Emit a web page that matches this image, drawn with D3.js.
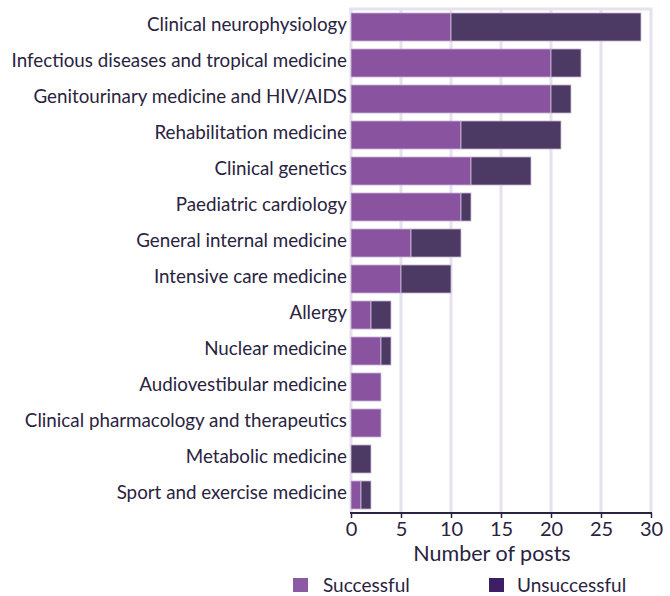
<!DOCTYPE html>
<html>
<head>
<meta charset="utf-8">
<script src="https://cdn.jsdelivr.net/npm/d3@7"></script>
<style>
  body { margin: 0; background: #fff; }
  text { font-family: Lato, "Open Sans", sans-serif; fill: #2a2340; }
</style>
</head>
<body>
<div id="chart"></div>
<script>
let w = 670,
    h = 596;

// data
let specialties = [
  "Clinical neurophysiology",
  "Infectious diseases and tropical medicine",
  "Genitourinary medicine and HIV/AIDS",
  "Rehabilitation medicine",
  "Clinical genetics",
  "Paediatric cardiology",
  "General internal medicine",
  "Intensive care medicine",
  "Allergy",
  "Nuclear medicine",
  "Audiovestibular medicine",
  "Clinical pharmacology and therapeutics",
  "Metabolic medicine",
  "Sport and exercise medicine"
];
let successful   = [10, 20, 20, 11, 12, 11, 6, 5, 2, 3, 3, 3, 0, 1];
let unsuccessful = [19, 3, 2, 10, 6, 1, 5, 5, 2, 1, 0, 0, 2, 1];
let xTicks = [0, 5, 10, 15, 20, 25, 30];
let seriesNames = ["Successful", "Unsuccessful"];

let barColors = ["#8a53a0", "#4d3a64"];
let legendColors = ["#8c5aa5", "#3d1f66"];

let margin = { top: 9, left: 351, right: 19, bottom: 83 };

let svg = d3.select("#chart")
            .append("svg")
            .attr("width", w)
            .attr("height", h);

let x = d3.scaleLinear()
          .domain([0, 30])
          .range([margin.left, w - margin.right]);

let y = d3.scaleBand()
          .domain(specialties)
          .range([margin.top, h - margin.bottom])
          .paddingInner(0.22)
          .paddingOuter(0.11);

// gridlines
svg.append("g")
   .selectAll("line")
   .data(xTicks)
   .enter()
   .append("line")
   .attr("x1", d => x(d))
   .attr("x2", d => x(d))
   .attr("y1", margin.top)
   .attr("y2", h - margin.bottom)
   .attr("stroke", "#e7e0ee")
   .attr("stroke-width", 3);

// top frame line
svg.append("line")
   .attr("x1", x(0) - 2)
   .attr("x2", x(30) + 1.5)
   .attr("y1", margin.top)
   .attr("y2", margin.top)
   .attr("stroke", "#e7e0ee")
   .attr("stroke-width", 3);

let rows = specialties.map((name, i) => ({
  name: name,
  s: successful[i],
  u: unsuccessful[i]
}));

let stack = d3.stack().keys(["s", "u"])(rows);

svg.append("g")
   .selectAll("g")
   .data(stack)
   .enter()
   .append("g")
   .attr("fill", (d, i) => barColors[i])
   .selectAll("rect")
   .data(d => d.filter(p => p[1] > p[0]))
   .enter()
   .append("rect")
   .attr("x", d => x(d[0]))
   .attr("width", d => x(d[1]) - x(d[0]))
   .attr("y", d => y(d.data.name))
   .attr("height", y.bandwidth())
   .attr("stroke", "#cfc0da")
   .attr("stroke-width", 0.8);

// category labels (sit a little above the bar centre)
svg.append("g")
   .selectAll("text")
   .data(specialties)
   .enter()
   .append("text")
   .attr("x", margin.left - 4)
   .attr("y", d => y(d) + y.bandwidth() / 2 - 3)
   .attr("dy", "0.35em")
   .attr("text-anchor", "end")
   .style("font-size", "18.8px")
   .text(d => d);

// x axis
let xAxis = svg.append("g")
   .attr("transform", "translate(0," + (h - margin.bottom) + ")")
   .call(d3.axisBottom(x).tickValues(xTicks).tickSize(5).tickPadding(4).tickSizeOuter(0));

xAxis.select(".domain")
     .attr("stroke", "#2a2340")
     .attr("stroke-width", 2)
     .attr("d", "M" + (x(0) - 1) + ",0H" + (x(30) + 1));
xAxis.selectAll(".tick line")
     .attr("stroke", "#2a2340")
     .attr("stroke-width", 1.5);
xAxis.selectAll(".tick text")
     .style("font-family", "Lato, sans-serif")
     .style("font-size", "20px")
     .attr("fill", "#2a2340");

svg.append("text")
   .attr("x", 492)
   .attr("y", 561)
   .attr("text-anchor", "middle")
   .style("font-size", "21.5px")
   .text("Number of posts");

// legend
let legend = svg.append("g")
   .selectAll("g")
   .data(seriesNames)
   .enter()
   .append("g")
   .attr("transform", (d, i) => "translate(" + [293, 489][i] + ",578)");

legend.append("rect")
      .attr("width", 15)
      .attr("height", 14)
      .attr("fill", (d, i) => legendColors[i]);

legend.append("text")
      .attr("x", (d, i) => [30, 28][i])
      .attr("y", 14)
      .style("font-size", "19px")
      .text(d => d);
</script>
</body>
</html>
